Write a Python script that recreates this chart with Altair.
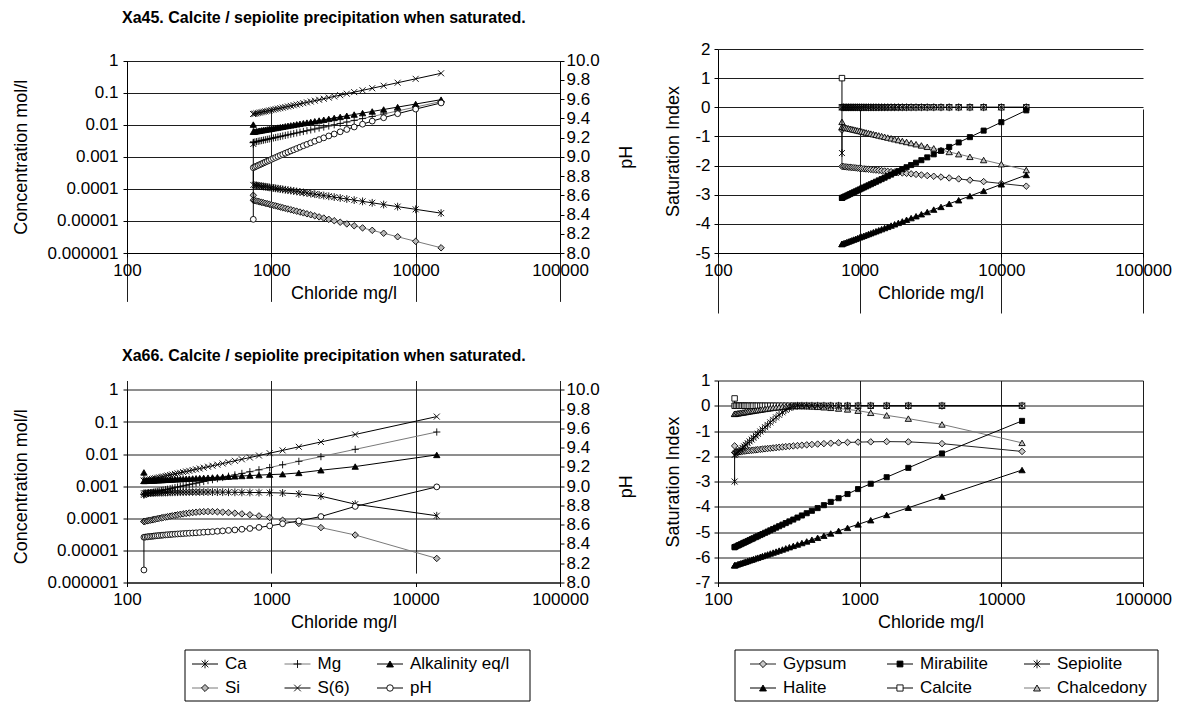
import altair as alt
import pandas as pd

FONT = "Liberation Sans"

# ---------------- Xa45 (top row) ----------------
CHLORIDE_XA45 = [750,
                 750, 769, 789, 811, 833, 857, 882, 909, 938, 968,
                 1000, 1034, 1071, 1111, 1154, 1200, 1250, 1304, 1364, 1429,
                 1500, 1579, 1667, 1765, 1875, 2000, 2143, 2308, 2500, 2727,
                 3000, 3333, 3750, 4286, 5000, 6000, 7500, 10000, 15000]
# log10 of concentration (mol/l)
CA_XA45 = [-2.60,
           -3.878, -3.885, -3.893, -3.901, -3.909, -3.917, -3.926, -3.934, -3.944, -3.953,
           -3.962, -3.972, -3.983, -3.993, -4.004, -4.016, -4.028, -4.040, -4.053, -4.067,
           -4.081, -4.097, -4.112, -4.129, -4.147, -4.166, -4.186, -4.208, -4.231, -4.257,
           -4.285, -4.316, -4.351, -4.390, -4.435, -4.489, -4.554, -4.638, -4.757]
MG_XA45 = [-2.56,
           -2.550, -2.539, -2.528, -2.517, -2.505, -2.493, -2.481, -2.468, -2.455, -2.442,
           -2.428, -2.413, -2.398, -2.383, -2.367, -2.350, -2.333, -2.315, -2.296, -2.276,
           -2.255, -2.233, -2.210, -2.186, -2.160, -2.133, -2.103, -2.072, -2.038, -2.001,
           -1.960, -1.915, -1.865, -1.808, -1.743, -1.665, -1.570, -1.448, -1.275]
ALK_XA45 = [-1.996,
            -2.220, -2.212, -2.203, -2.194, -2.185, -2.175, -2.166, -2.156, -2.145, -2.135,
            -2.124, -2.112, -2.101, -2.089, -2.076, -2.063, -2.049, -2.035, -2.020, -2.005,
            -1.988, -1.971, -1.953, -1.934, -1.914, -1.892, -1.869, -1.844, -1.817, -1.788,
            -1.756, -1.721, -1.682, -1.637, -1.586, -1.525, -1.450, -1.354, -1.218]
SI_XA45 = [-4.20,
           -4.354, -4.367, -4.379, -4.393, -4.406, -4.420, -4.434, -4.449, -4.464, -4.480,
           -4.496, -4.513, -4.531, -4.549, -4.567, -4.587, -4.607, -4.628, -4.650, -4.673,
           -4.697, -4.723, -4.749, -4.778, -4.808, -4.840, -4.874, -4.910, -4.950, -4.993,
           -5.040, -5.093, -5.151, -5.217, -5.293, -5.384, -5.494, -5.636, -5.837]
S6_XA45 = [-1.665,
           -1.665, -1.654, -1.643, -1.632, -1.620, -1.608, -1.596, -1.584, -1.571, -1.557,
           -1.543, -1.529, -1.514, -1.499, -1.483, -1.466, -1.449, -1.431, -1.412, -1.392,
           -1.372, -1.350, -1.327, -1.303, -1.277, -1.250, -1.221, -1.189, -1.155, -1.118,
           -1.078, -1.033, -0.983, -0.927, -0.862, -0.784, -0.690, -0.568, -0.396]
PH_XA45 = [8.35,
           8.887, 8.895, 8.903, 8.911, 8.919, 8.927, 8.936, 8.945, 8.954, 8.963,
           8.973, 8.983, 8.993, 9.004, 9.015, 9.025, 9.037, 9.048, 9.061, 9.073,
           9.086, 9.100, 9.115, 9.129, 9.145, 9.162, 9.179, 9.197, 9.217, 9.237,
           9.260, 9.284, 9.310, 9.339, 9.371, 9.406, 9.448, 9.496, 9.560]
# saturation indices
GYP_XA45 = [-0.78,
            -2.030, -2.036, -2.042, -2.048, -2.054, -2.060, -2.067, -2.073, -2.080, -2.088,
            -2.095, -2.103, -2.111, -2.119, -2.127, -2.136, -2.145, -2.155, -2.165, -2.175,
            -2.187, -2.198, -2.210, -2.223, -2.237, -2.252, -2.267, -2.284, -2.302, -2.322,
            -2.343, -2.367, -2.393, -2.424, -2.458, -2.500, -2.550, -2.615, -2.707]
MIR_XA45 = [-3.11,
            -3.110, -3.085, -3.058, -3.032, -3.004, -2.976, -2.947, -2.917, -2.886, -2.854,
            -2.821, -2.787, -2.752, -2.716, -2.678, -2.639, -2.598, -2.555, -2.510, -2.464,
            -2.415, -2.363, -2.309, -2.252, -2.191, -2.126, -2.057, -1.982, -1.902, -1.815,
            -1.719, -1.614, -1.495, -1.361, -1.207, -1.024, -0.800, -0.511, -0.105]
SEP_XA45 = [-1.57,
            0, 0, 0, 0, 0, 0, 0, 0, 0, 0,
            0, 0, 0, 0, 0, 0, 0, 0, 0, 0,
            0, 0, 0, 0, 0, 0, 0, 0, 0, 0,
            0, 0, 0, 0, 0, 0, 0, 0, 0]
HAL_XA45 = [-4.69,
            -4.690, -4.670, -4.649, -4.628, -4.607, -4.584, -4.562, -4.538, -4.514, -4.489,
            -4.463, -4.436, -4.408, -4.379, -4.349, -4.319, -4.286, -4.253, -4.218, -4.181,
            -4.142, -4.102, -4.059, -4.014, -3.966, -3.915, -3.860, -3.802, -3.738, -3.670,
            -3.594, -3.511, -3.418, -3.312, -3.190, -3.046, -2.870, -2.643, -2.322]
CAL_XA45 = [1.0,
            0, 0, 0, 0, 0, 0, 0, 0, 0, 0,
            0, 0, 0, 0, 0, 0, 0, 0, 0, 0,
            0, 0, 0, 0, 0, 0, 0, 0, 0, 0,
            0, 0, 0, 0, 0, 0, 0, 0, 0]
CHA_XA45 = [-0.50,
            -0.670, -0.683, -0.695, -0.709, -0.722, -0.736, -0.750, -0.765, -0.780, -0.796,
            -0.812, -0.829, -0.847, -0.865, -0.883, -0.903, -0.923, -0.944, -0.966, -0.989,
            -1.013, -1.039, -1.065, -1.094, -1.124, -1.156, -1.190, -1.226, -1.266, -1.309,
            -1.356, -1.409, -1.467, -1.533, -1.609, -1.700, -1.810, -1.952, -2.153]

# ---------------- Xa66 (bottom row) ----------------
CHLORIDE_XA66 = [131,
                 131, 134, 138, 141, 145, 149, 153, 157, 162, 167,
                 173, 178, 185, 191, 199, 206, 215, 224, 234, 245,
                 257, 270, 285, 301, 319, 340, 364, 391, 423, 460,
                 505, 559, 625, 710, 821, 974, 1197, 1551, 2206, 3811,
                 14000]
CA_XA66 = [-3.27,
           -3.220, -3.218, -3.216, -3.214, -3.212, -3.210, -3.208, -3.206, -3.204, -3.202,
           -3.200, -3.198, -3.196, -3.194, -3.192, -3.190, -3.188, -3.187, -3.186, -3.185,
           -3.184, -3.183, -3.182, -3.182, -3.182, -3.182, -3.183, -3.184, -3.185, -3.186,
           -3.188, -3.190, -3.192, -3.195, -3.198, -3.202, -3.212, -3.240, -3.310, -3.560,
           -3.920]
MG_XA66 = [-3.25,
           -3.250, -3.241, -3.228, -3.219, -3.208, -3.197, -3.186, -3.175, -3.162, -3.149,
           -3.135, -3.123, -3.107, -3.094, -3.077, -3.062, -3.045, -3.027, -3.009, -2.990,
           -2.970, -2.950, -2.928, -2.905, -2.881, -2.854, -2.826, -2.796, -2.764, -2.729,
           -2.690, -2.648, -2.602, -2.549, -2.489, -2.418, -2.332, -2.225, -2.079, -1.852,
           -1.312]
ALK_XA66 = [-2.57,
            -2.835, -2.833, -2.830, -2.828, -2.825, -2.822, -2.820, -2.817, -2.814, -2.811,
            -2.808, -2.805, -2.801, -2.798, -2.794, -2.791, -2.786, -2.782, -2.778, -2.774,
            -2.769, -2.764, -2.759, -2.753, -2.748, -2.741, -2.735, -2.728, -2.720, -2.712,
            -2.703, -2.693, -2.682, -2.669, -2.655, -2.638, -2.625, -2.586, -2.503, -2.388,
            -2.025]
SI_XA66 = [-4.10,
           -4.100, -4.091, -4.079, -4.070, -4.059, -4.048, -4.037, -4.027, -4.014, -4.002,
           -3.988, -3.977, -3.962, -3.949, -3.934, -3.921, -3.905, -3.890, -3.876, -3.862,
           -3.848, -3.835, -3.822, -3.810, -3.800, -3.793, -3.790, -3.792, -3.798, -3.808,
           -3.822, -3.840, -3.862, -3.890, -3.925, -3.975, -4.060, -4.160, -4.290, -4.520,
           -5.250]
S6_XA66 = [-2.83,
           -2.830, -2.820, -2.808, -2.798, -2.787, -2.775, -2.764, -2.753, -2.739, -2.726,
           -2.711, -2.699, -2.682, -2.669, -2.651, -2.636, -2.618, -2.600, -2.582, -2.562,
           -2.542, -2.521, -2.497, -2.474, -2.449, -2.422, -2.393, -2.362, -2.329, -2.293,
           -2.253, -2.209, -2.162, -2.107, -2.045, -1.972, -1.884, -1.773, -1.622, -1.388,
           -0.832]
PH_XA66 = [8.13,
           8.470, 8.472, 8.474, 8.476, 8.478, 8.480, 8.482, 8.484, 8.486, 8.488,
           8.490, 8.492, 8.494, 8.496, 8.498, 8.500, 8.502, 8.504, 8.506, 8.508,
           8.510, 8.512, 8.514, 8.516, 8.519, 8.522, 8.525, 8.528, 8.532, 8.536,
           8.541, 8.546, 8.553, 8.561, 8.572, 8.588, 8.610, 8.640, 8.685, 8.790,
           8.993]
GYP_XA66 = [-1.59,
            -1.850, -1.840, -1.830, -1.822, -1.814, -1.806, -1.798, -1.790, -1.782, -1.774,
            -1.765, -1.757, -1.747, -1.738, -1.727, -1.717, -1.706, -1.695, -1.683, -1.671,
            -1.659, -1.646, -1.633, -1.620, -1.606, -1.592, -1.578, -1.563, -1.548, -1.533,
            -1.517, -1.500, -1.484, -1.467, -1.452, -1.440, -1.430, -1.420, -1.430, -1.500,
            -1.810]
MIR_XA66 = [-5.60,
            -5.600, -5.574, -5.540, -5.516, -5.484, -5.452, -5.422, -5.392, -5.357, -5.321,
            -5.281, -5.248, -5.204, -5.168, -5.121, -5.081, -5.032, -4.985, -4.935, -4.882,
            -4.827, -4.771, -4.709, -4.646, -4.580, -4.507, -4.428, -4.346, -4.256, -4.160,
            -4.053, -3.937, -3.808, -3.662, -3.496, -3.300, -3.090, -2.830, -2.460, -1.890,
            -0.600]
SEP_XA66 = [-3.00,
            -1.95, -1.90, -1.84, -1.79, -1.73, -1.67, -1.61, -1.55, -1.48, -1.41,
            -1.34, -1.27, -1.19, -1.11, -1.02, -0.94, -0.85, -0.76, -0.66, -0.56,
            -0.46, -0.36, -0.26, -0.17, -0.09, -0.03, 0, 0, 0, 0,
            0, 0, 0, 0, 0, 0, 0, 0, 0, 0,
            0]
HAL_XA66 = [-6.32,
            -6.320, -6.302, -6.278, -6.260, -6.238, -6.216, -6.195, -6.174, -6.149, -6.124,
            -6.095, -6.072, -6.041, -6.016, -5.982, -5.954, -5.920, -5.887, -5.851, -5.814,
            -5.776, -5.736, -5.692, -5.648, -5.601, -5.550, -5.495, -5.437, -5.373, -5.305,
            -5.230, -5.148, -5.058, -4.955, -4.837, -4.699, -4.533, -4.324, -4.039, -3.597,
            -2.546]
CAL_XA66 = [0.29,
            0, 0, 0, 0, 0, 0, 0, 0, 0, 0,
            0, 0, 0, 0, 0, 0, 0, 0, 0, 0,
            0, 0, 0, 0, 0, 0, 0, 0, 0, 0,
            0, 0, 0, 0, 0, 0, 0, 0, 0, 0,
            0]
CHA_XA66 = [-0.32,
            -0.320, -0.311, -0.299, -0.290, -0.279, -0.268, -0.257, -0.247, -0.234, -0.222,
            -0.208, -0.197, -0.182, -0.169, -0.154, -0.141, -0.125, -0.110, -0.096, -0.082,
            -0.068, -0.055, -0.042, -0.030, -0.020, -0.013, -0.010, -0.012, -0.018, -0.028,
            -0.042, -0.060, -0.082, -0.110, -0.145, -0.195, -0.280, -0.380, -0.510, -0.740,
            -1.470]

X_TICKS = [100, 1000, 10000, 100000]
CONC_TICKS = [0.000001, 0.00001, 0.0001, 0.001, 0.01, 0.1, 1]
PH_TICKS = [8.0, 8.2, 8.4, 8.6, 8.8, 9.0, 9.2, 9.4, 9.6, 9.8, 10.0]
SI_TICKS_45 = [-5, -4, -3, -2, -1, 0, 1, 2]
SI_TICKS_66 = [-7, -6, -5, -4, -3, -2, -1, 0, 1]

CONC_NAMES = ["Ca", "Mg", "Alkalinity eq/l", "Si", "S(6)", "pH"]
SI_NAMES = ["Gypsum", "Mirabilite", "Sepiolite", "Halite", "Calcite", "Chalcedony"]
SI_DRAW_ORDER = ["Calcite", "Gypsum", "Chalcedony", "Mirabilite", "Halite", "Sepiolite"]

# ---------------- styles ----------------
ASTER = "M-1,-1L1,1M-1,1L1,-1M0,-1.3L0,1.3"
CROSS = "M-1,-1L1,1M-1,1L1,-1"
PLUS = "M-1.2,0L1.2,0M0,-1.2L0,1.2"
STYLE = {
    "Ca": dict(shape=ASTER, size=36, fill=None, stroke="#000", line="#000"),
    "Mg": dict(shape=PLUS, size=36, fill=None, stroke="#000", line="#7a7a7a"),
    "Alkalinity eq/l": dict(shape="triangle-up", size=40, fill="#000", stroke="#000", line="#000"),
    "Si": dict(shape="diamond", size=42, fill="#b8b8b8", stroke="#000", line="#7a7a7a"),
    "S(6)": dict(shape=CROSS, size=36, fill=None, stroke="#000", line="#000"),
    "pH": dict(shape="circle", size=34, fill="#fff", stroke="#000", line="#000"),
    "Gypsum": dict(shape="diamond", size=42, fill="#c8c8c8", stroke="#000", line="#222"),
    "Mirabilite": dict(shape="square", size=26, fill="#000", stroke="#000", line="#000"),
    "Sepiolite": dict(shape=ASTER, size=36, fill=None, stroke="#000", line="#000"),
    "Halite": dict(shape="triangle-up", size=40, fill="#000", stroke="#000", line="#000"),
    "Calcite": dict(shape="square", size=30, fill="#fff", stroke="#000", line="#000"),
    "Chalcedony": dict(shape="triangle-up", size=40, fill="#c0c0c0", stroke="#000", line="#7a7a7a"),
}

TOP_H = 204        # visible plot height, top row
TOP_EXTRA = 60     # extra layout space below the top row plots


def frame(xs, ys, log=False):
    assert len(xs) == len(ys), (len(xs), len(ys))
    vals = [10 ** v for v in ys] if log else list(ys)
    return pd.DataFrame({"x": xs, "y": vals, "i": list(range(len(xs)))})


def series_layers(df, name, X, Y):
    st = STYLE[name]
    line = alt.Chart(df).mark_line(color=st["line"], strokeWidth=1).encode(x=X, y=Y, order="i:Q")
    kw = dict(shape=st["shape"], size=st["size"], stroke=st["stroke"], strokeWidth=0.9, opacity=1)
    if st["fill"] is None:
        pt = alt.Chart(df).mark_point(filled=False, **kw)
    else:
        pt = alt.Chart(df).mark_point(filled=True, fill=st["fill"], fillOpacity=1, **kw)
    return [line, pt.encode(x=X, y=Y)]


def x_enc(offset):
    return alt.X("x:Q", scale=alt.Scale(type="log", domain=[100, 100000]),
                 axis=alt.Axis(values=X_TICKS, format="d", title="Chloride mg/l", grid=True,
                               titleY=40, titleBaseline="middle", labelPadding=5,
                               offset=offset))


def conc_panel(xs, series, ph, h, top, layout_h, title, title_offset):
    X = x_enc(h - layout_h)
    Yc = alt.Y("y:Q", scale=alt.Scale(type="log", domain=[0.000001, 1], range=[h, top]),
               axis=alt.Axis(values=CONC_TICKS, format=".6~f", title="Concentration mol/l",
                             grid=True, titleX=-106, titleY=(h + top) / 2, titleAngle=270,
                             titleBaseline="middle", labelPadding=5))
    Yp = alt.Y("y:Q", scale=alt.Scale(domain=[8, 10], range=[h, top]),
               axis=alt.Axis(values=PH_TICKS, format=".1f", title="pH", grid=False, orient="right",
                             titleX=66, titleY=(h + top) / 2, titleAngle=270,
                             titleBaseline="middle", labelPadding=2))
    conc_layers = []
    for name, ys in zip(CONC_NAMES[:5], series):
        conc_layers += series_layers(frame(xs, ys, log=True), name, X, Yc)
    ph_layers = series_layers(frame(xs, ph), "pH", X, Yp)
    return alt.layer(alt.layer(*conc_layers), alt.layer(*ph_layers)).resolve_scale(
        y="independent").properties(
        width=433, height=layout_h,
        title=alt.TitleParams(title, anchor="start", frame="group", fontSize=16,
                              fontWeight="bold", font=FONT, color="#000", dx=-5,
                              offset=title_offset))


def si_panel(xs, series, h, layout_h, dom, ticks):
    X = x_enc(h - layout_h)
    Y = alt.Y("y:Q", scale=alt.Scale(domain=dom, range=[h, 0]),
              axis=alt.Axis(values=ticks, labelExpr="'' + datum.value", title="Saturation Index",
                            grid=True, titleX=-45, titleY=h / 2, titleAngle=270,
                            titleBaseline="middle", labelPadding=4))
    by_name = dict(zip(SI_NAMES, series))
    layers = []
    for name in SI_DRAW_ORDER:
        layers += series_layers(frame(xs, by_name[name]), name, X, Y)
    return alt.layer(*layers).properties(width=425, height=layout_h)


def legend_chart(names, width, box, xr):
    X = alt.X("c:Q", scale=alt.Scale(domain=[0, 2], range=xr), axis=None)
    Y = alt.Y("r:Q", scale=alt.Scale(domain=[0, 1], range=[14, 38]), axis=None)
    layers = [alt.Chart(pd.DataFrame({"k": [0]})).mark_rect(
        fill="#fff", stroke="#000", strokeWidth=1).encode(
        x=alt.value(box[0]), x2=alt.value(box[1]), y=alt.value(0), y2=alt.value(51))]
    for k, name in enumerate(names):
        st = STYLE[name]
        d = pd.DataFrame({"c": [k % 3], "r": [k // 3], "name": [name]})
        layers.append(alt.Chart(d).mark_point(shape="M-1,0L1,0", size=676, filled=False,
                                              stroke=st["line"], strokeWidth=1, opacity=1)
                      .encode(x=X, y=Y))
        kw = dict(shape=st["shape"], size=st["size"] + 8, stroke=st["stroke"], strokeWidth=0.9,
                  opacity=1)
        if st["fill"] is None:
            pt = alt.Chart(d).mark_point(filled=False, **kw)
        else:
            pt = alt.Chart(d).mark_point(filled=True, fill=st["fill"], fillOpacity=1, **kw)
        layers.append(pt.encode(x=X, y=Y))
        layers.append(alt.Chart(d).mark_text(align="left", baseline="middle", dx=20, font=FONT,
                                             fontSize=17, color="#000")
                      .encode(x=X, y=Y, text="name:N"))
    return alt.layer(*layers).properties(width=width, height=51)


TL = conc_panel(CHLORIDE_XA45, [CA_XA45, MG_XA45, ALK_XA45, SI_XA45, S6_XA45], PH_XA45,
                TOP_H, 11.6, TOP_H + TOP_EXTRA,
                "Xa45. Calcite / sepiolite precipitation when saturated.", 23)
TR = si_panel(CHLORIDE_XA45, [GYP_XA45, MIR_XA45, SEP_XA45, HAL_XA45, CAL_XA45, CHA_XA45],
              TOP_H, TOP_H + TOP_EXTRA, [-5, 2], SI_TICKS_45)
BL = conc_panel(CHLORIDE_XA66, [CA_XA66, MG_XA66, ALK_XA66, SI_XA66, S6_XA66], PH_XA66,
                202, 9.4, 202, "Xa66. Calcite / sepiolite precipitation when saturated.", 17)
BR = si_panel(CHLORIDE_XA66, [GYP_XA66, MIR_XA66, SEP_XA66, HAL_XA66, CAL_XA66, CHA_XA66],
              202, 202, [-7, 1], SI_TICKS_66)
LEG_L = legend_chart(CONC_NAMES, 433, (58, 403), [78, 263])
LEG_R = legend_chart(SI_NAMES, 425, (17, 440), [45, 319])

chart = alt.concat(
    TL, TR, BL, BR, LEG_L, LEG_R,
    columns=2, spacing={"row": 67.5, "column": 158}, bounds="flush",
).properties(
    padding={"left": 3, "top": 2, "right": 0, "bottom": 0},
    background="#ffffff",
).configure_view(stroke=None).configure_axis(
    labelFont=FONT, labelFontSize=17, labelColor="#000",
    titleFont=FONT, titleFontSize=18, titleFontWeight="normal", titleColor="#000",
    domainColor="#000", domainWidth=1, tickColor="#000", tickSize=4, tickWidth=1,
    gridColor="#1e1e1e", gridWidth=1, gridOpacity=1,
    labelFlush=False, labelOverlap=False,
)

chart.save("out.html", embed_options={"renderer": "svg", "actions": False})
